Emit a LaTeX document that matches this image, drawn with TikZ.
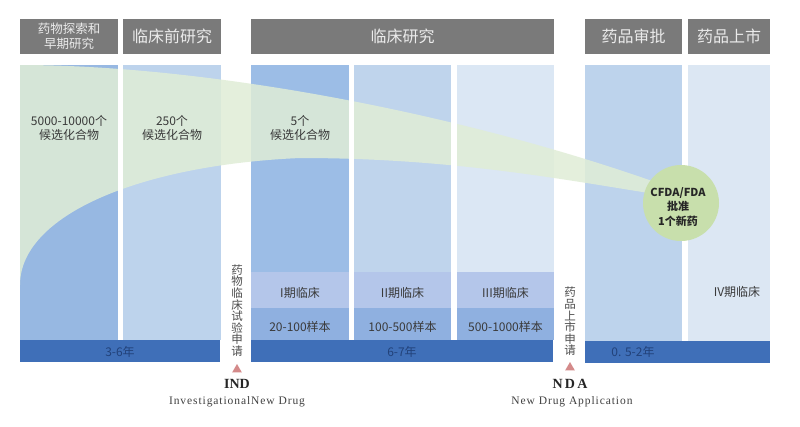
\documentclass[tikz,border=0pt]{standalone}
\usepackage{fontspec}
\setmainfont{Noto Sans CJK SC}
\newfontfamily\latinserif{Liberation Serif}
\newfontfamily\latinspaced[LetterSpace=8]{Liberation Serif}
\usetikzlibrary{shapes.geometric}
\definecolor{hdr}{HTML}{7A7A7A}
\definecolor{cA}{HTML}{97B8E2}
\definecolor{cB}{HTML}{BDD3EC}
\definecolor{cC}{HTML}{9CBDE6}
\definecolor{cD}{HTML}{BFD4EC}
\definecolor{cE}{HTML}{DBE7F4}
\definecolor{cF}{HTML}{BDD3EC}
\definecolor{cG}{HTML}{DCE7F3}
\definecolor{phase}{HTML}{B4C6EA}
\definecolor{sample}{HTML}{8FB0E0}
\definecolor{bar}{HTML}{3F6FB8}
\definecolor{bartext}{HTML}{22427A}
\definecolor{funnel}{HTML}{E0EDD6}
\definecolor{ball}{HTML}{C8DFAC}
\definecolor{tri}{HTML}{D48A8A}
\definecolor{txt}{HTML}{3A3A3A}
\tikzset{
  hdrbox/.style={fill=hdr, draw=none, inner sep=0pt, text=white!92!black, align=center},
  lbl/.style={text=txt, font=\fontsize{12}{14}\selectfont, align=center, inner sep=0pt},
  barlbl/.style={text=bartext, font=\fontsize{12}{14}\selectfont, inner sep=0pt},
  vtxt/.style={text=black!70, font=\fontsize{11.5}{11.6}\selectfont, align=center, inner sep=0pt},
  tipmark/.style={regular polygon, regular polygon sides=3, fill=tri, draw=none, inner sep=0pt, minimum size=11pt},
  abbr/.style={font=\latinserif\bfseries\fontsize{14}{16}\selectfont, text=black!85, inner sep=0pt},
  full/.style={font=\latinspaced\fontsize{11.5}{13}\selectfont, text=black!75, inner sep=0pt}
}
\begin{document}
\begin{tikzpicture}[x=1pt,y=-1pt]
\useasboundingbox (0,0) rectangle (800,426);
\fill[white] (0,0) rectangle (800,426);
% headers
\node[hdrbox, minimum width=98pt, minimum height=35pt, font=\fontsize{12.5}{15}\selectfont] (h1) at (69,36.5) {药物探索和\\早期研究};
\node[hdrbox, minimum width=98pt, minimum height=35pt, font=\fontsize{16}{18}\selectfont] (h2) at (172,36.5) {临床前研究};
\node[hdrbox, minimum width=303pt, minimum height=35pt, font=\fontsize{16}{18}\selectfont] (h3) at (402.5,36.5) {临床研究};
\node[hdrbox, minimum width=97pt, minimum height=35pt, font=\fontsize{16}{18}\selectfont] (h4) at (633.5,36.5) {药品审批};
\node[hdrbox, minimum width=82pt, minimum height=35pt, font=\fontsize{16}{18}\selectfont] (h5) at (729,36.5) {药品上市};
% columns
\fill[cA] (20,65) rectangle (118,340);
\fill[cB] (123,65) rectangle (221,340);
\fill[cC] (251,65) rectangle (349,272);
\fill[cD] (354,65) rectangle (451,272);
\fill[cE] (457,65) rectangle (554,272);
\fill[cF] (585,65) rectangle (682,341);
\fill[cG] (688,65) rectangle (770,341);
% phase rows
\foreach \a/\b in {251/349,354/451,457/554}{
  \fill[phase] (\a,272) rectangle (\b,308);
  \fill[sample] (\a,308) rectangle (\b,340);
}
% green funnel
\fill[funnel, opacity=0.85] (20,65) .. controls (200,65) and (450,110) .. (655,182)
  -- (655,194) .. controls (560,179) and (450,158) .. (300,158)
  .. controls (140,165) and (20,215) .. (20,285) -- cycle;
% thin separators
\foreach \a/\b in {118/123,349/354,451/457,682/688}{
  \fill[white] (\a,65) rectangle (\b,341);
}
% bars
\fill[bar] (20,340) rectangle (220,362);
\fill[bar] (251,340) rectangle (553,362);
\fill[bar] (585,341) rectangle (770,363);
% circle
\node[circle, fill=ball, minimum size=76pt, inner sep=0pt] (ball) at (681,203) {};
\node[font=\bfseries\fontsize{11}{14.5}\selectfont, text=black!85, align=center, inner sep=0pt] (balltxt) at (678,207) {CFDA/FDA\\批准\\1个新药};
% column texts
\node[lbl] (t1) at (69,128) {5000-10000个\\候选化合物};
\node[lbl] (t2) at (172,128) {250个\\候选化合物};
\node[lbl] (t3) at (300,128) {5个\\候选化合物};
\node[lbl] (p1) at (300,293) {I期临床};
\node[lbl] (p2) at (402.5,293) {II期临床};
\node[lbl] (p3) at (505.5,293) {III期临床};
\node[lbl] (s1) at (300,327) {20-100样本};
\node[lbl] (s2) at (402.5,327) {100-500样本};
\node[lbl] (s3) at (505.5,327) {500-1000样本};
\node[lbl] (p4) at (737,292) {IV期临床};
\node[barlbl] (y1) at (120,352) {3-6年};
\node[barlbl] (y2) at (402,352) {6-7年};
\node[barlbl] (y3) at (633,352) {0. 5-2年};
% IND
\node[vtxt] (ind) at (237,310.5) {药\\物\\临\\床\\试\\验\\申\\请};
\node[tipmark] (indtri) at (237,369.5) {};
\node[abbr] (indab) at (237,384) {IND};
\node[full] (indfull) at (237,402) {InvestigationalNew Drug};
% NDA
\node[vtxt] (nda) at (570,321.5) {药\\品\\上\\市\\申\\请};
\node[tipmark] (ndatri) at (570,367.5) {};
\node[abbr] (ndaab) at (570,384) {N\,D\,A};
\node[full] (ndafull) at (572,402) {New Drug Application};
\end{tikzpicture}
\end{document}
